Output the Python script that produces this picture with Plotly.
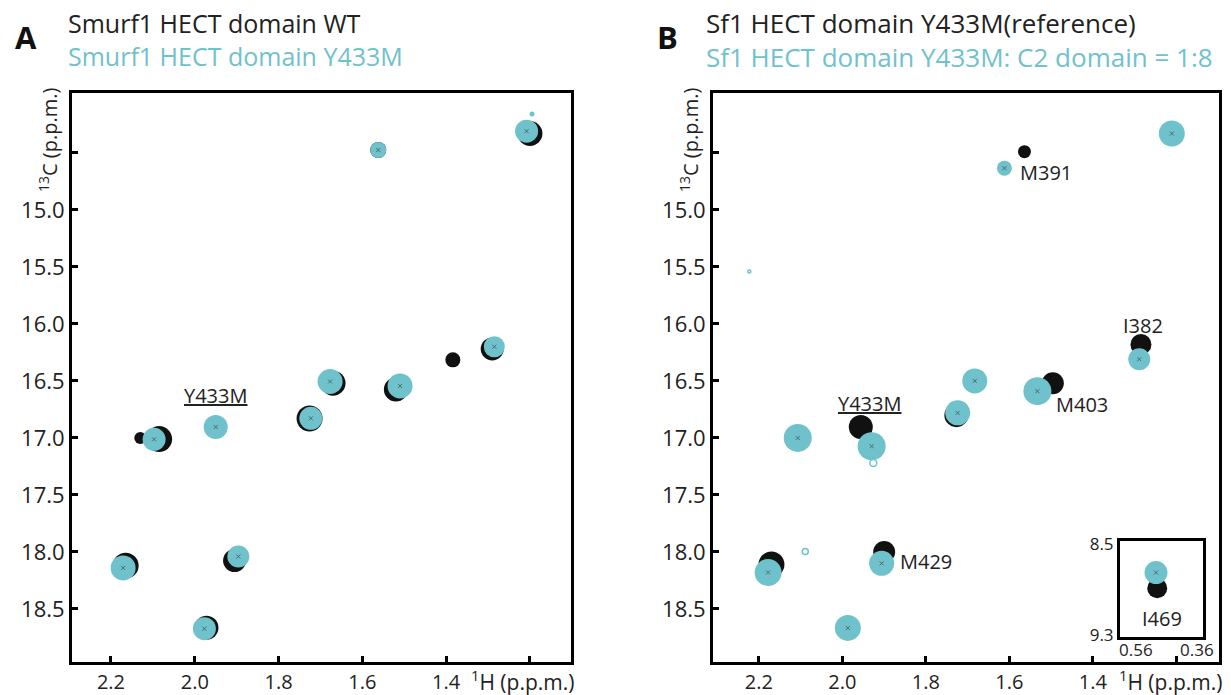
import plotly.graph_objects as go

TEAL = "#6FC2CB"
DARK = "#111111"
FONT = "Open Sans"

# ---------------- data: panel A (WT black, Y433M teal) ----------------
a_wt_h = [1.200, 1.562, 1.290, 1.384, 1.520, 1.670, 1.726, 2.085, 2.130, 2.165, 1.905, 1.972]
a_wt_c = [14.33, 14.475, 16.22, 16.315, 16.575, 16.52, 16.83, 17.010, 17.00, 18.12, 18.075, 18.665]
a_mut_h = [1.208, 1.562, 1.285, 1.510, 1.677, 1.723, 1.950, 2.097, 2.171, 1.896, 1.977, 1.195]
a_mut_c = [14.31, 14.475, 16.20, 16.544, 16.505, 16.828, 16.904, 17.012, 18.14, 18.04, 18.673, 14.16]

# ---------------- data: panel B (reference black, +C2 teal) ----------------
b_ref_h = [1.211, 1.564, 1.285, 1.683, 1.727, 1.496, 1.956, 2.107, 2.170, 1.900, 1.987]
b_ref_c = [14.33, 14.49, 16.18, 16.50, 16.80, 16.52, 16.904, 17.00, 18.11, 18.00, 18.666]
b_c2_h = [1.211, 1.612, 1.289, 1.683, 1.724, 1.533, 1.930, 2.107, 2.178, 1.906, 1.987]
b_c2_c = [14.33, 14.634, 16.31, 16.50, 16.78, 16.59, 17.073, 17.00, 18.18, 18.10, 18.666]
b_small_h = [2.223, 2.089, 1.926]
b_small_c = [15.54, 17.996, 17.22]

# inset (I469)
inset_ref_h = [0.490]
inset_ref_c = [8.889]
inset_c2_h = [0.494]
inset_c2_c = [8.752]

# axis ticks
x_ticks = [2.2, 2.0, 1.8, 1.6, 1.4, 1.2]
x_ticktext = ["2.2", "2.0", "1.8", "1.6", "1.4", ""]
y_ticks = [14.5, 15.0, 15.5, 16.0, 16.5, 17.0, 17.5, 18.0, 18.5]
y_ticktext = ["", "15.0", "15.5", "16.0", "16.5", "17.0", "17.5", "18.0", "18.5"]
inset_x_ticks = [0.56, 0.36]
inset_y_ticks = [8.5, 9.3]

# labels
b_labels = ["M391", "I382", "M403", "<u>Y433M</u>", "M429"]
b_label_h = [1.513, 1.281, 1.427, 1.934, 1.800]
b_label_c = [14.67, 16.01, 16.71, 16.70, 18.08]

# ---------------- styles ----------------
a_wt_size = [25, 16, 23, 15, 24, 25, 26, 26, 12, 26, 23, 24]
a_mut_size = [23, 16, 21, 25, 25, 23, 24, 23, 25, 22, 23, 5]
b_ref_size = [20, 13, 21, 22, 24, 22, 24, 26, 26, 22, 24]
b_c2_size = [26, 15, 22, 25, 25, 28, 28, 28, 27, 25, 26]

W, H = 1231, 695


def px(x):
    return x / W


def py(y):
    return 1 - y / H


fig = go.Figure()


def peaks(xs, ys, sizes, color, xa, ya, symbol="circle"):
    fig.add_trace(go.Scatter(
        x=xs, y=ys, mode="markers", xaxis=xa, yaxis=ya, hoverinfo="skip",
        marker=dict(size=sizes, color=color, symbol=symbol, opacity=1, line=dict(width=0)),
        showlegend=False))


def centers(xs, ys, xa, ya):
    fig.add_trace(go.Scatter(
        x=xs, y=ys, mode="markers", xaxis=xa, yaxis=ya, hoverinfo="skip",
        marker=dict(size=4, color="#333333", symbol="x-thin", opacity=0.6,
                    line=dict(width=1, color="#333333")),
        showlegend=False))


# Panel A
peaks(a_wt_h, a_wt_c, a_wt_size, DARK, "x", "y")
peaks(a_mut_h, a_mut_c, a_mut_size, TEAL, "x", "y")
centers(a_mut_h[:11], a_mut_c[:11], "x", "y")

# Panel B
peaks(b_ref_h, b_ref_c, b_ref_size, DARK, "x2", "y2")
peaks(b_c2_h, b_c2_c, b_c2_size, TEAL, "x2", "y2")
centers(b_c2_h, b_c2_c, "x2", "y2")
fig.add_trace(go.Scatter(
    x=b_small_h, y=b_small_c, mode="markers", xaxis="x2", yaxis="y2", hoverinfo="skip",
    marker=dict(size=[3, 6, 7], color="white", opacity=1, line=dict(width=1.5, color=TEAL)),
    showlegend=False))

# Inset
peaks(inset_ref_h, inset_ref_c, [20], DARK, "x3", "y3")
peaks(inset_c2_h, inset_c2_c, [23], TEAL, "x3", "y3")
centers(inset_c2_h, inset_c2_c, "x3", "y3")

axis_common = dict(
    showline=True, linewidth=3, linecolor="black", mirror=True,
    ticks="inside", ticklen=6, tickwidth=3, tickcolor="black",
    showgrid=False, zeroline=False, automargin=False,
    tickfont=dict(family=FONT, size=22, color="#222222"),
)
x_font = dict(family=FONT, size=20, color="#222222")
inset_common = dict(
    showline=True, linewidth=3, linecolor="black", mirror=True, ticks="",
    showgrid=False, zeroline=False, automargin=False, tickmode="array",
    tickfont=dict(family=FONT, size=17, color="#222222"),
)

xa_dom = [px(72), px(571)]
xb_dom = [px(713), px(1219)]
y_dom = [py(662), py(93)]

fig.update_layout(
    width=W, height=H, margin=dict(l=0, r=0, t=0, b=0),
    paper_bgcolor="white", plot_bgcolor="white",
    xaxis=dict(axis_common, domain=xa_dom, range=[2.293, 1.102], tickmode="array",
               tickvals=x_ticks, ticktext=x_ticktext, anchor="y", tickfont=x_font),
    yaxis=dict(axis_common, domain=y_dom, range=[18.965, 13.975], tickmode="array",
               tickvals=y_ticks, ticktext=y_ticktext, anchor="x"),
    xaxis2=dict(axis_common, domain=xb_dom, range=[2.31, 1.098], tickmode="array",
                tickvals=x_ticks, ticktext=x_ticktext, anchor="y2", tickfont=x_font),
    yaxis2=dict(axis_common, domain=y_dom, range=[18.965, 13.975], tickmode="array",
                tickvals=y_ticks, ticktext=y_ticktext, anchor="x2"),
    xaxis3=dict(inset_common, domain=[px(1120), px(1203)], range=[0.612, 0.340],
                tickvals=inset_x_ticks, ticktext=[f"{v:.2f}" for v in inset_x_ticks],
                anchor="y3", ticklabelstandoff=-4),
    yaxis3=dict(inset_common, domain=[py(637), py(541)], range=[9.318, 8.474],
                tickvals=inset_y_ticks, ticktext=[f"{v:.1f}" for v in inset_y_ticks],
                anchor="x3", ticklabelstandoff=0),
)

ann = []


def text(x, y, t, size, color="#222222", xanchor="center", xref="paper", yref="paper",
         bold=False, angle=0):
    ann.append(dict(x=x, y=y, xref=xref, yref=yref, text=(f"<b>{t}</b>" if bold else t),
                    showarrow=False, xanchor=xanchor, yanchor="middle", textangle=angle,
                    align="left", font=dict(family=FONT, size=size, color=color)))


def title(x, line1, line2, size):
    t = f"{line1}<br><span style='color:{TEAL}'>{line2}</span>"
    text(px(x), py(40), t, size, "#222222", xanchor="left")


# Panel letters and titles
text(px(26), py(37), "A", 31, "#111111", bold=True)
title(66, "Smurf1 HECT domain WT", "Smurf1 HECT domain Y433M", 25)
text(px(667), py(37), "B", 31, "#111111", bold=True)
title(704, "Sf1 HECT domain Y433M(reference)", "Sf1 HECT domain Y433M: C2 domain = 1:8", 26)

# axis titles
for off in (0, 641):
    text(px(49 + off), py(140), "<sup>13</sup>C (p.p.m.)", 20, angle=-90)
text(px(522), py(680), "<sup>1</sup>H (p.p.m.)", 21)
text(px(1170), py(680), "<sup>1</sup>H (p.p.m.)", 21)

# peak labels
text(1.95, 16.63, "<u>Y433M</u>", 20, xref="x", yref="y")
for lab, lx, ly in zip(b_labels, b_label_h, b_label_c):
    text(lx, ly, lab, 20, xref="x2", yref="y2")
text(0.476, 9.153, "I469", 20, xref="x3", yref="y3")

fig.update_layout(annotations=ann)
fig.write_html("out.html")
